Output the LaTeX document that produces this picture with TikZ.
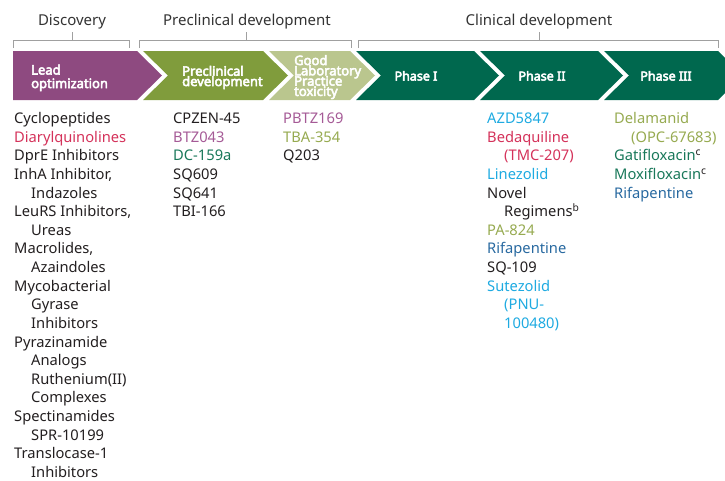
\documentclass[tikz,border=0pt]{standalone}
\usepackage{fontspec}
\setmainfont{Noto Sans}[AutoFakeBold=4]
\lineskiplimit=-50pt
\definecolor{cLead}{RGB}{142,74,128}
\definecolor{cPre}{RGB}{128,156,60}
\definecolor{cGlp}{RGB}{186,198,142}
\definecolor{cClin}{RGB}{0,104,78}
\definecolor{tBlack}{RGB}{35,31,32}
\definecolor{tCrim}{RGB}{212,50,90}
\definecolor{tPurp}{RGB}{165,90,150}
\definecolor{tTeal}{RGB}{25,120,90}
\definecolor{tOlive}{RGB}{150,170,80}
\definecolor{tSky}{RGB}{30,170,225}
\definecolor{tBlue}{RGB}{40,105,160}
\definecolor{hGray}{RGB}{51,51,51}
\definecolor{bGray}{RGB}{160,160,160}
\newcommand{\ind}{\hspace*{17pt}}
\begin{document}
\begin{tikzpicture}[x=1pt,y=-1pt,
  hdr/.style={anchor=base,inner sep=0,text=hGray,font=\fontsize{15}{18}\selectfont},
  brk/.style={draw=bGray,line width=1pt},
  chev/.style={inner sep=0,text=white,font=\bfseries\fontsize{13}{10.3}\selectfont,align=left},
  col/.style={anchor=base west,inner sep=0,align=left,text=tBlack,font=\fontsize{14.7}{18.63}\selectfont}]
\useasboundingbox (0,0) rectangle (725,480);
% headers
\node[hdr] (hdisc) at (72,25) {Discovery};
\node[hdr] (hpre) at (247,25) {Preclinical development};
\node[hdr] (hclin) at (539,25) {Clinical development};
% brackets
\draw[brk] (13,48) -- (13,40) -- (129,40) -- (129,48) (72,40) -- (72,32);
\draw[brk] (139,48) -- (139,40) -- (351,40) -- (351,48) (246,40) -- (246,32);
\draw[brk] (358,48) -- (358,40) -- (718,40) -- (718,48) (539,40) -- (539,32);
% chevrons
\fill[cLead] (13,51) -- (137,51) -- (162,75.5) -- (137,100) -- (13,100) -- cycle;
\fill[cPre] (143,51) -- (263,51) -- (288,75.5) -- (263,100) -- (143,100) -- (168,75.5) -- cycle;
\fill[cGlp] (269,51) -- (350,51) -- (375,75.5) -- (350,100) -- (269,100) -- (294,75.5) -- cycle;
\fill[cClin] (356,51) -- (474,51) -- (499,75.5) -- (474,100) -- (356,100) -- (381,75.5) -- cycle;
\fill[cClin] (480,51) -- (598,51) -- (623,75.5) -- (598,100) -- (480,100) -- (505,75.5) -- cycle;
\begin{scope}
\clip (0,0) rectangle (725,480);
\fill[cClin] (604,51) -- (718,51) -- (743,75.5) -- (718,100) -- (604,100) -- (629,75.5) -- cycle;
\end{scope}
% chevron labels (base anchor = baseline of last line)
\node[chev,anchor=base west,font=\bfseries\fontsize{13}{13.5}\selectfont] (lead) at (31,88) {Lead\\optimization};
\node[chev,anchor=base west] (pre) at (182,86) {Preclinical\\development};
\node[chev,anchor=base west] (glp) at (294,95.9) {Good\\Laboratory\\Practice\\toxicity};
\node[chev,anchor=base,font=\bfseries\fontsize{12.5}{14}\selectfont] (p1) at (416,80.5) {Phase I};
\node[chev,anchor=base,font=\bfseries\fontsize{12.5}{14}\selectfont] (p2) at (542,80.5) {Phase II};
\node[chev,anchor=base,font=\bfseries\fontsize{12.5}{14}\selectfont] (p3) at (666,80.5) {Phase III};
% columns (base anchor = baseline of last line)
\node[col] (c1) at (14,477.5) {Cyclopeptides\\
\textcolor{tCrim}{Diarylquinolines}\\
DprE Inhibitors\\
InhA Inhibitor,\\
\ind Indazoles\\
LeuRS Inhibitors,\\
\ind Ureas\\
Macrolides,\\
\ind Azaindoles\\
Mycobacterial\\
\ind Gyrase\\
\ind Inhibitors\\
Pyrazinamide\\
\ind Analogs\\
\ind Ruthenium(II)\\
\ind Complexes\\
Spectinamides\\
\ind SPR-10199\\
Translocase-1\\
\ind Inhibitors};
\node[col] (c2) at (173,216.65) {CPZEN-45\\
\textcolor{tPurp}{BTZ043}\\
\textcolor{tTeal}{DC-159a}\\
SQ609\\
SQ641\\
TBI-166};
\node[col] (c3) at (283,160.76) {\textcolor{tPurp}{PBTZ169}\\
\textcolor{tOlive}{TBA-354}\\
Q203};
\node[col] (c5) at (487,328.43) {\textcolor{tSky}{AZD5847}\\
\textcolor{tCrim}{Bedaquiline}\\
\ind\textcolor{tCrim}{(TMC-207)}\\
\textcolor{tSky}{Linezolid}\\
Novel\\
\ind Regimens\textsuperscript{b}\\
\textcolor{tOlive}{PA-824}\\
\textcolor{tBlue}{Rifapentine}\\
SQ-109\\
\textcolor{tSky}{Sutezolid}\\
\ind\textcolor{tSky}{(PNU-}\\
\ind\textcolor{tSky}{100480)}};
\node[col] (c6) at (614,198.02) {\textcolor{tOlive}{Delamanid}\\
\ind\textcolor{tOlive}{(OPC-67683)}\\
\textcolor{tTeal}{Gatifloxacin}\textsuperscript{c}\\
\textcolor{tTeal}{Moxifloxacin}\textsuperscript{c}\\
\textcolor{tBlue}{Rifapentine}};
\end{tikzpicture}
\end{document}
